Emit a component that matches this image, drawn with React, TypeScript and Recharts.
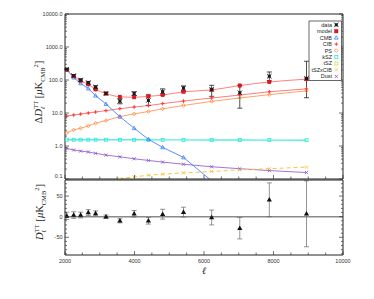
import React from 'react';
import { ComposedChart, Line, XAxis, YAxis, ErrorBar, ReferenceLine } from 'recharts';

// multipole bin centres
const ells = [2050, 2250, 2450, 2670, 2880, 3180, 3580, 3990, 4400, 4810, 5410, 6220, 7030, 7880, 8950];

// top panel (log)
const dataVals = [212, 136, 100, 83, 61, 39, 23, 39, 24, 44, 57, 52, 41, 130, 112];
const dataLo = [8, 10, 8, 8, 6, 3, 4, 5, 7, 9, 11, 20, 27, 36, 83];
const dataHi = [8, 10, 8, 8, 6, 3, 4, 5, 11, 10, 9, 17, 28, 45, 258];
const modelVals = [205, 130, 95, 74, 52, 39, 31, 30, 32, 35, 44, 50, 68, 87, 106];
const cmbVals = [202, 118, 79, 55, 33.5, 18.7, 7.7, 3.45, 1.6, 0.91, 0.45, 0.088, 0.015, 0.003, 0.0005];
const cibVals = [8, 8.7, 9.3, 10, 10.7, 11.8, 13.5, 15.2, 16.7, 19.2, 23, 28.5, 35, 44, 54];
const psVals = [2.5, 3.07, 3.45, 4.07, 4.9, 5.9, 7.8, 9.4, 11.1, 13.4, 16.9, 22.5, 28.5, 36, 47];
const kszVals = [1.55, 1.55, 1.55, 1.55, 1.55, 1.55, 1.54, 1.54, 1.54, 1.53, 1.53, 1.52, 1.52, 1.51, 1.5];
const tszCibVals = [null, null, null, null, null, 0.07, 0.102, 0.116, 0.13, 0.14, 0.153, 0.168, 0.19, 0.205, 0.23];
const dustVals = [0.85, 0.755, 0.7, 0.66, 0.6, 0.53, 0.47, 0.41, 0.365, 0.325, 0.28, 0.235, 0.205, 0.18, 0.157];

// bottom panel residuals
const residVals = [2, 4, 4, 10, 8, 0, -10, 7, -10, 6, 11, -2, -28, 41, 7];
const residErr = [9, 8, 7, 7, 6, 4, 5, 8, 8, 12, 12, 18, 26, 41, 80];

const xTicks = [2000, 2500, 3000, 3500, 4000, 4500, 5000, 5500, 6000, 6500, 7000, 7500, 8000, 8500, 9000, 9500, 10000];
const xLabels = [2000, 4000, 6000, 8000, 10000];
const decades = [0.1, 1, 10, 100, 1000, 10000];
const residTicks = [-90, -80, -70, -60, -50, -40, -30, -20, -10, 0, 10, 20, 30, 40, 50, 60, 70, 80];
const residLabels = [-50, 0, 50];

const logTicks: number[] = [];
decades.forEach((d, i) => {
  if (i === decades.length - 1) { logTicks.push(d); return; }
  for (let m = 1; m < 10; m++) logTicks.push(Number((m * d).toPrecision(3)));
});

const rows = ells.map((l, i) => ({
  l,
  data: dataVals[i],
  dataErr: [dataLo[i], dataHi[i]],
  model: modelVals[i],
  cmb: cmbVals[i],
  cib: cibVals[i],
  ps: psVals[i],
  ksz: kszVals[i],
  tszcib: tszCibVals[i],
  dust: dustVals[i],
  resid: residVals[i],
  residErr: residErr[i],
}));

const C = {
  data: '#1a1a1a',
  model: '#e8141c',
  modelLine: '#ff8080',
  cmb: '#3b7cff',
  cib: '#ff2a2a',
  cibLine: '#ff7a7a',
  ps: '#ff8a3c',
  psLine: '#ffa468',
  ksz: '#2ee8d8',
  tsz: '#c6e83a',
  tszcib: '#ffc13a',
  dust: '#8c52c8',
};

const tickFont = { fontFamily: 'Liberation Sans, Arial, sans-serif', fontSize: 5.5, fill: '#333' };

// marker shapes
const sqx = (x: number, y: number, c: string) => (
  <>
    <rect x={x - 1.5} y={y - 1.5} width={3} height={3} fill={c} />
    <path d={`M${x - 2.3},${y - 2.3}L${x + 2.3},${y + 2.3}M${x - 2.3},${y + 2.3}L${x + 2.3},${y - 2.3}`} stroke={c} strokeWidth={0.8} />
  </>
);
const sq = (x: number, y: number, c: string) => (
  <rect x={x - 1.7} y={y - 1.7} width={3.4} height={3.4} fill={c} stroke="#b00" strokeWidth={0.4} />
);
const sqOpen = (x: number, y: number, c: string) => (
  <rect x={x - 1.5} y={y - 1.5} width={3} height={3} fill="none" stroke={c} strokeWidth={0.8} />
);
const tri = (x: number, y: number, c: string, filled = false) => (
  <path d={`M${x},${y - 2}L${x + 1.9},${y + 1.4}L${x - 1.9},${y + 1.4}Z`} fill={filled ? c : 'none'} stroke={c} strokeWidth={0.8} />
);
const plus = (x: number, y: number, c: string) => (
  <path d={`M${x - 1.8},${y}L${x + 1.8},${y}M${x},${y - 1.8}L${x},${y + 1.8}`} stroke={c} strokeWidth={0.9} />
);
const diamond = (x: number, y: number, c: string) => (
  <path d={`M${x},${y - 1.8}L${x + 1.8},${y}L${x},${y + 1.8}L${x - 1.8},${y}Z`} fill="none" stroke={c} strokeWidth={0.8} />
);
const cross = (x: number, y: number, c: string) => (
  <path d={`M${x - 1.6},${y - 1.6}L${x + 1.6},${y + 1.6}M${x - 1.6},${y + 1.6}L${x + 1.6},${y - 1.6}`} stroke={c} strokeWidth={0.8} />
);
const bigTri = (x: number, y: number) => (
  <path d={`M${x},${y - 2.8}L${x + 2.6},${y + 1.8}L${x - 2.6},${y + 1.8}Z`} fill="#111" />
);

const dotOf = (draw: (x: number, y: number) => React.ReactNode) => (p: any) => {
  const { cx, cy, index } = p;
  if (cx == null || cy == null || Number.isNaN(cy)) return <g key={`d${index}`} />;
  return <g key={`d${index}`}>{draw(cx, cy)}</g>;
};

const isDecade = (v: number) => Math.abs(Math.log10(v) - Math.round(Math.log10(v))) < 1e-6;

const xTick = (side: 'top' | 'bottom', showLabel: boolean) => (p: any) => {
  const { x, y, payload } = p;
  const v = payload.value;
  const major = xLabels.includes(v);
  const len = major ? 4 : 2.5;
  const dir = side === 'bottom' ? -1 : 1;
  return (
    <g>
      <line x1={x} y1={y} x2={x} y2={y + dir * len} stroke="#333" strokeWidth={0.7} />
      {showLabel && major && (
        <text x={x} y={y + 8} textAnchor="middle" {...tickFont}>{v}</text>
      )}
    </g>
  );
};

const logTick = (side: 'left' | 'right') => (p: any) => {
  const { x, y, payload } = p;
  const v = payload.value;
  const major = isDecade(v);
  const len = major ? 4 : 2;
  const dir = side === 'left' ? 1 : -1;
  // lowest label sits just above the panel edge
  const ty = v === 0.1 ? y - 0.8 : y + 2;
  return (
    <g>
      <line x1={x} y1={y} x2={x + dir * len} y2={y} stroke="#333" strokeWidth={0.7} />
      {side === 'left' && major && (
        <text x={x - 2.5} y={ty} textAnchor="end" {...tickFont}>{v.toFixed(1)}</text>
      )}
    </g>
  );
};

const linTick = (side: 'left' | 'right') => (p: any) => {
  const { x, y, payload } = p;
  const v = payload.value;
  const major = residLabels.includes(v);
  const len = major ? 4 : 2;
  const dir = side === 'left' ? 1 : -1;
  return (
    <g>
      <line x1={x} y1={y} x2={x + dir * len} y2={y} stroke="#333" strokeWidth={0.7} />
      {side === 'left' && major && (
        <text x={x - 2.5} y={y + 2} textAnchor="end" {...tickFont}>{v}</text>
      )}
    </g>
  );
};

const axisLine = { stroke: '#222', strokeWidth: 1 };

const legendItems = [
  { name: 'data', draw: (x: number, y: number) => sqx(x, y, C.data) },
  { name: 'model', draw: (x: number, y: number) => sq(x, y, C.model) },
  { name: 'CMB', draw: (x: number, y: number) => tri(x, y, C.cmb) },
  { name: 'CIB', draw: (x: number, y: number) => plus(x, y, C.cib) },
  { name: 'PS', draw: (x: number, y: number) => diamond(x, y, C.ps) },
  { name: 'kSZ', draw: (x: number, y: number) => sqOpen(x, y, C.ksz) },
  { name: 'tSZ', draw: (x: number, y: number) => sqOpen(x, y, C.tsz) },
  { name: 'tSZxCIB', draw: (x: number, y: number) => cross(x, y, C.tszcib) },
  { name: 'Dust', draw: (x: number, y: number) => cross(x, y, C.dust) },
];

const serif = 'Liberation Serif, DejaVu Serif, serif';

function YTitle({ cx, cy, delta }: { cx: number; cy: number; delta: boolean }) {
  return (
    <text transform={`rotate(-90 ${cx} ${cy})`} x={cx} y={cy} textAnchor="middle" fontFamily={serif} fontSize={10.5} fill="#222">
      {delta ? 'Δ' : ''}
      <tspan fontStyle="italic">D</tspan>
      <tspan fontSize={6.5} fontStyle="italic" dy={2.5}>ℓ</tspan>
      <tspan fontSize={6.5} dx={-2.5} dy={-7}>TT</tspan>
      <tspan dy={4.5}> [</tspan>
      <tspan fontStyle="italic">μ</tspan>
      <tspan>K</tspan>
      <tspan fontSize={6.5} dy={2.5}>CMB</tspan>
      <tspan fontSize={6.5} dy={-7}>2</tspan>
      <tspan dy={4.5}>]</tspan>
    </text>
  );
}

export default function App() {
  return (
    <div style={{ position: 'absolute', left: 0, top: 0, width: 374, height: 299, background: '#fff' }}>
      <div style={{ position: 'absolute', left: 0, top: 0 }}>
        <ComposedChart width={374} height={180} data={rows} margin={{ top: 13, right: 30, bottom: 0, left: 35 }}>
          <XAxis dataKey="l" type="number" domain={[2000, 10000]} ticks={xTicks} interval={0} height={1}
            tickSize={0} tickMargin={0} tickLine={false} tick={xTick('bottom', false)} axisLine={axisLine} allowDataOverflow />
          <XAxis xAxisId="t" orientation="top" type="number" domain={[2000, 10000]} ticks={xTicks} interval={0} height={1}
            tickSize={0} tickMargin={0} tickLine={false} tick={xTick('top', false)} axisLine={axisLine} allowDataOverflow />
          <YAxis type="number" scale="log" domain={[0.1, 10000]} ticks={logTicks} interval={0} width={30}
            tickSize={0} tickMargin={0} tickLine={false} tick={logTick('left')} axisLine={axisLine} allowDataOverflow />
          <YAxis yAxisId="r" orientation="right" type="number" scale="log" domain={[0.1, 10000]} ticks={logTicks} interval={0} width={1}
            tickSize={0} tickMargin={0} tickLine={false} tick={logTick('right')} axisLine={axisLine} allowDataOverflow />

          <Line dataKey="ksz" stroke={C.ksz} strokeWidth={1.4} strokeOpacity={0.8} dot={dotOf((x, y) => sqOpen(x, y, C.ksz))} activeDot={false} isAnimationActive={false} />
          <Line dataKey="dust" stroke={C.dust} strokeWidth={1} strokeOpacity={0.8} dot={dotOf((x, y) => cross(x, y, C.dust))} activeDot={false} isAnimationActive={false} />
          <Line dataKey="tszcib" stroke={C.tszcib} strokeWidth={1} strokeDasharray="4 3" dot={dotOf((x, y) => cross(x, y, C.tszcib))} activeDot={false} isAnimationActive={false} />
          <Line dataKey="ps" stroke={C.psLine} strokeWidth={1} dot={dotOf((x, y) => diamond(x, y, C.ps))} activeDot={false} isAnimationActive={false} />
          <Line dataKey="cib" stroke={C.cibLine} strokeWidth={1} dot={dotOf((x, y) => plus(x, y, C.cib))} activeDot={false} isAnimationActive={false} />
          <Line dataKey="cmb" stroke={C.cmb} strokeWidth={1} strokeOpacity={0.85} dot={dotOf((x, y) => tri(x, y, C.cmb))} activeDot={false} isAnimationActive={false} />
          <Line type="monotone" dataKey="model" stroke={C.modelLine} strokeWidth={1} dot={dotOf((x, y) => sq(x, y, C.model))} activeDot={false} isAnimationActive={false} />
          <Line dataKey="data" stroke="none" dot={dotOf((x, y) => sqx(x, y, C.data))} activeDot={false} isAnimationActive={false}>
            <ErrorBar dataKey="dataErr" width={2.5} stroke="#222" strokeWidth={0.8} />
          </Line>
        </ComposedChart>
      </div>

      <div style={{ position: 'absolute', left: 0, top: 179 }}>
        <ComposedChart width={374} height={120} data={rows} margin={{ top: 0, right: 30, bottom: 24, left: 35 }}>
          <XAxis dataKey="l" type="number" domain={[2000, 10000]} ticks={xTicks} interval={0} height={20}
            tickSize={0} tickMargin={0} tickLine={false} tick={xTick('bottom', true)} axisLine={axisLine} allowDataOverflow
            label={{ content: (p: any) => {
              const vb = p.viewBox;
              return <text x={vb.x + vb.width / 2} y={vb.y + 18.5} textAnchor="middle" fontFamily={serif} fontStyle="italic" fontSize={10} fill="#222">ℓ</text>;
            } }} />
          <XAxis xAxisId="t" orientation="top" type="number" domain={[2000, 10000]} ticks={xTicks} interval={0} height={1}
            tickSize={0} tickMargin={0} tickLine={false} tick={xTick('top', false)} axisLine={axisLine} allowDataOverflow />
          <YAxis type="number" domain={[-93, 89]} ticks={residTicks} interval={0} width={30}
            tickSize={0} tickMargin={0} tickLine={false} tick={linTick('left')} axisLine={axisLine} allowDataOverflow />
          <YAxis yAxisId="r" orientation="right" type="number" domain={[-93, 89]} ticks={residTicks} interval={0} width={1}
            tickSize={0} tickMargin={0} tickLine={false} tick={linTick('right')} axisLine={axisLine} allowDataOverflow />
          <ReferenceLine y={0} stroke="#8a8a8a" strokeWidth={1.5} />
          <Line dataKey="resid" stroke="none" dot={dotOf((x, y) => bigTri(x, y))} activeDot={false} isAnimationActive={false}>
            <ErrorBar dataKey="residErr" width={2.5} stroke="#666" strokeWidth={0.7} />
          </Line>
        </ComposedChart>
      </div>

      <svg width={374} height={299} style={{ position: 'absolute', left: 0, top: 0, pointerEvents: 'none' }}>
        <YTitle cx={42} cy={92} delta />
        <YTitle cx={43} cy={212} delta={false} />
        <rect x={309} y={21} width={32.5} height={59.5} fill="#fff" stroke="#444" strokeWidth={0.8} />
        {legendItems.map((it, i) => {
          const y = 24.8 + i * 6.45;
          return (
            <g key={it.name}>
              <text x={332} y={y + 1.9} textAnchor="end" {...tickFont} fill="#222">{it.name}</text>
              {it.draw(336.3, y)}
            </g>
          );
        })}
      </svg>
    </div>
  );
}
